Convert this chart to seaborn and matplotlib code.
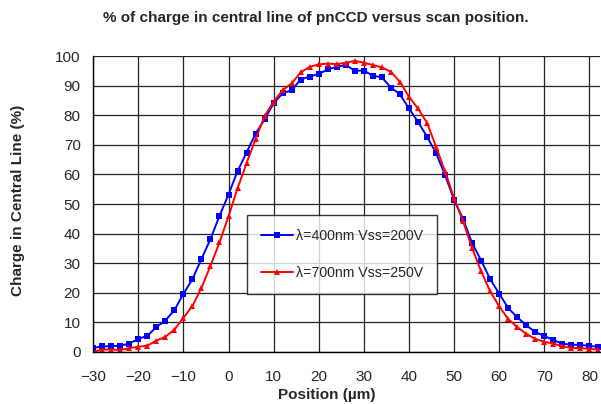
import numpy as np
import pandas as pd
import matplotlib
matplotlib.use("Agg")
import matplotlib.pyplot as plt
import seaborn as sns

position = [-30, -28, -26, -24, -22, -20, -18, -16, -14, -12, -10, -8, -6, -4, -2,
            0, 2, 4, 6, 8, 10, 12, 14, 16, 18, 20, 22, 24, 26, 28, 30, 32, 34, 36, 38,
            40, 42, 44, 46, 48, 50, 52, 54, 56, 58, 60, 62, 64, 66, 68, 70, 72, 74, 76,
            78, 80, 82]

charge_400 = [1.3, 1.9, 1.9, 2.1, 2.8, 4.4, 5.4, 8.4, 10.6, 14.1, 19.6, 24.6, 31.4, 38.1, 46.0,
              53.2, 61.1, 67.4, 73.8, 78.6, 84.1, 87.4, 88.5, 92.1, 93.1, 94.0, 95.5, 96.4, 97.0,
              95.1, 95.1, 93.4, 92.8, 89.4, 87.1, 82.3, 77.8, 72.8, 67.2, 59.8, 51.4, 44.9, 36.8,
              30.9, 24.6, 19.7, 14.8, 11.7, 9.0, 6.7, 5.4, 4.0, 2.8, 2.4, 2.4, 2.0, 1.7]

charge_700 = [0.0, 0.8, 0.8, 0.6, 1.3, 1.7, 2.1, 3.8, 5.1, 7.5, 11.5, 15.5, 21.6, 29.1, 37.0,
              45.8, 55.3, 63.8, 71.9, 79.8, 84.6, 88.5, 90.8, 94.5, 96.4, 97.2, 97.5, 97.3, 97.8,
              98.4, 97.8, 97.0, 96.2, 94.7, 91.3, 86.3, 82.3, 77.5, 69.4, 61.0, 52.0, 44.1, 35.1,
              27.2, 20.5, 15.4, 11.1, 8.4, 6.1, 4.4, 3.4, 2.8, 1.9, 1.3, 1.3, 1.0, 0.8]

labels = ["λ=400nm Vss=200V", "λ=700nm Vss=250V"]

sns.set_style("white")
plt.rcParams["font.family"] = ["Liberation Sans", "DejaVu Sans"]

fig = plt.figure(figsize=(6.01, 4.04), dpi=100)
ax = fig.add_axes([0.155, 0.129, 0.843, 0.732])

sns.lineplot(x=position, y=charge_400, color="#0000ff", marker="s", markersize=4.6,
             markeredgewidth=0, linewidth=1.4, label=labels[0], ax=ax)
sns.lineplot(x=position, y=charge_700, color="#ff0000", marker="^", markersize=4.2,
             markeredgewidth=0, linewidth=1.4, label=labels[1], ax=ax)

ax.set_xlim(-30, 82.3)
ax.set_ylim(0, 100)
ax.set_xticks(range(-30, 81, 10))
ax.set_yticks(range(0, 101, 10))
ax.grid(True, color="#222222", linewidth=0.9)
ax.set_axisbelow(True)
for s in ["top", "right"]:
    ax.spines[s].set_visible(False)
for s in ["left", "bottom"]:
    ax.spines[s].set_color("black")
    ax.spines[s].set_linewidth(1)
ax.tick_params(direction="out", length=5, width=1, color="black", labelsize=11, pad=4)
ax.tick_params(axis="x", pad=8)

ax.set_xlabel("")
ax.set_ylabel("")
fig.text(0.543, 0.005, "Position (µm)", ha="center", va="bottom", fontsize=11, fontweight="bold")
fig.text(0.03, 0.505, "Charge in Central Line (%)", ha="center", va="center", rotation=90,
         fontsize=11, fontweight="bold")
fig.text(0.525, 0.955, "% of charge in central line of pnCCD versus scan position.",
         ha="center", va="center", fontsize=11, fontweight="bold")

leg = ax.legend(loc="upper left", bbox_to_anchor=(0.304, 0.463), frameon=True, fancybox=False,
                edgecolor="black", fontsize=10.2, labelspacing=1.6, handlelength=2.2,
                handletextpad=0.25, borderpad=1.0, borderaxespad=0, markerscale=1.0)
leg.get_frame().set_linewidth(1)

fig.savefig("out.png", dpi=100)
